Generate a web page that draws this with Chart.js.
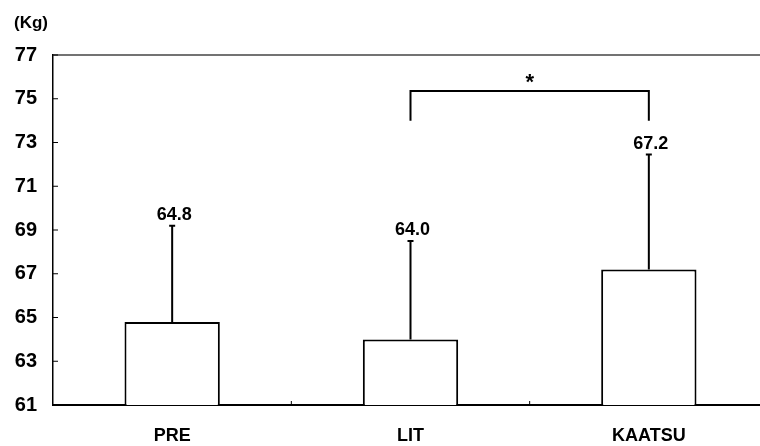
<!DOCTYPE html>
<html>
<head>
<meta charset="utf-8">
<script src="https://cdn.jsdelivr.net/npm/chart.js@4/dist/chart.umd.min.js"></script>
<style>
  html, body { margin: 0; padding: 0; background: #fff; overflow: hidden; }
  #wrap { position: relative; width: 768px; height: 446px; }
</style>
</head>
<body>
<div id="wrap"><canvas id="myChart" width="768" height="446"></canvas></div>
<script>
// values
const categories = ["PRE", "LIT", "KAATSU"];
const means = [64.8, 64.0, 67.2];
const errorTops = [69.2, 68.5, 72.45];
const valueLabels = ["64.8", "64.0", "67.2"];
const yTicks = [61, 63, 65, 67, 69, 71, 73, 75, 77];
// significance bracket between LIT and KAATSU
const bracketFrom = 1, bracketTo = 2;
const bracketTop = 75.35, bracketLegEnd = 74.0;

const FONT = "'Liberation Sans Narrow', 'Liberation Sans', Arial, sans-serif";

const extras = {
  id: "extras",
  afterDatasetsDraw(chart) {
    const ctx = chart.ctx;
    const x = chart.scales.x, y = chart.scales.y;
    const area = chart.chartArea;
    ctx.save();
    ctx.strokeStyle = "#000";
    ctx.fillStyle = "#000";

    // top frame line
    ctx.lineWidth = 1.5;
    ctx.strokeStyle = "#444";
    ctx.beginPath();
    ctx.moveTo(area.left, area.top);
    ctx.lineTo(area.right, area.top);
    ctx.stroke();
    ctx.strokeStyle = "#000";

    // inward y ticks
    ctx.lineWidth = 1;
    yTicks.forEach(v => {
      const py = y.getPixelForValue(v);
      ctx.beginPath();
      ctx.moveTo(area.left, py);
      ctx.lineTo(area.left + 5, py);
      ctx.stroke();
    });

    // small x ticks between categories
    for (let i = 0; i < categories.length - 1; i++) {
      const px = (x.getPixelForValue(i) + x.getPixelForValue(i + 1)) / 2;
      ctx.beginPath();
      ctx.moveTo(px, area.bottom);
      ctx.lineTo(px, area.bottom - 4);
      ctx.stroke();
    }

    // error bars (upper only) and value labels
    ctx.lineWidth = 2;
    ctx.font = "bold 18px " + FONT;
    ctx.textAlign = "center";
    ctx.textBaseline = "alphabetic";
    means.forEach((m, i) => {
      const px = x.getPixelForValue(i);
      const pBase = y.getPixelForValue(m);
      const pTop = y.getPixelForValue(errorTops[i]);
      ctx.beginPath();
      ctx.moveTo(px, pBase);
      ctx.lineTo(px, pTop);
      ctx.moveTo(px - 3, pTop);
      ctx.lineTo(px + 3, pTop);
      ctx.stroke();
      ctx.fillText(valueLabels[i], px + 2, pTop - 6);
    });

    // bracket with asterisk
    const x1 = x.getPixelForValue(bracketFrom);
    const x2 = x.getPixelForValue(bracketTo);
    const yt = y.getPixelForValue(bracketTop);
    const yl = y.getPixelForValue(bracketLegEnd);
    ctx.lineWidth = 2;
    ctx.beginPath();
    ctx.moveTo(x1, yl);
    ctx.lineTo(x1, yt);
    ctx.lineTo(x2, yt);
    ctx.lineTo(x2, yl);
    ctx.stroke();
    ctx.font = "bold 22px " + FONT;
    ctx.fillText("*", (x1 + x2) / 2, yt - 2);

    // unit label
    ctx.font = "bold 17px " + FONT;
    ctx.textAlign = "left";
    ctx.fillText("(Kg)", 14, 28);
    ctx.restore();
  }
};

new Chart(document.getElementById("myChart").getContext("2d"), {
  type: "bar",
  data: {
    labels: categories,
    datasets: [{
      data: means,
      backgroundColor: "#fff",
      borderColor: "#000",
      borderWidth: 2,
      borderSkipped: false,
      barPercentage: 0.4,
      categoryPercentage: 1
    }]
  },
  options: {
    responsive: false,
    animation: false,
    devicePixelRatio: 1,
    layout: { padding: { top: 55, right: 0, left: 0, bottom: 0 } },
    plugins: { legend: { display: false }, tooltip: { enabled: false } },
    scales: {
      x: {
        grid: { display: false },
        border: { display: true, color: "#000", width: 2 },
        ticks: { color: "#000", padding: 12, font: { family: FONT, size: 18, weight: "bold" } },
        afterFit(scale) { scale.height = 41; }
      },
      y: {
        min: 61,
        max: 77,
        afterBuildTicks(scale) { scale.ticks = yTicks.map(v => ({ value: v })); },
        grid: { display: false, drawTicks: false },
        border: { display: true, color: "#000", width: 1.5 },
        ticks: { color: "#000", padding: 16, font: { family: FONT, size: 20, weight: "bold" } },
        afterFit(scale) { scale.width = 53; }
      }
    }
  },
  plugins: [extras]
});
</script>
</body>
</html>
